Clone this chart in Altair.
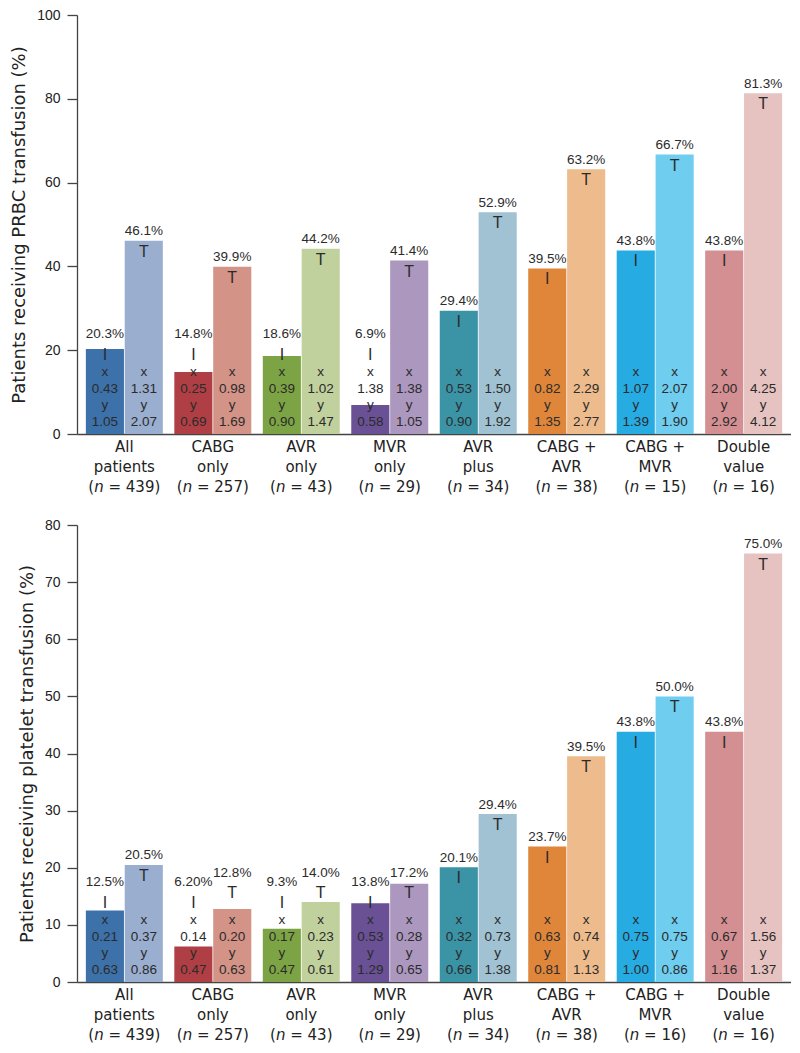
import altair as alt
import pandas as pd

# ---------------- data ----------------
line1 = ["All", "CABG", "AVR", "MVR", "AVR", "CABG +", "CABG +", "Double"]
line2 = ["patients", "only", "only", "only", "plus", "AVR", "MVR", "value"]

prbc_n = [439, 257, 43, 29, 34, 38, 15, 16]
plt_n = [439, 257, 43, 29, 34, 38, 16, 16]

dark_colors = ["#3d71a9", "#b03f45", "#7da444", "#6a5094", "#3b93a6", "#df863b", "#27abe3", "#d38f92"]
light_colors = ["#9aaecf", "#d39387", "#c1d19d", "#ac97bf", "#a0c2d2", "#eebb8d", "#6fcdef", "#e6c3c1"]

# PRBC panel (percent of patients) and the x / y values printed in the bars
prbc_dark = ["20.3", "14.8", "18.6", "6.9", "29.4", "39.5", "43.8", "43.8"]
prbc_light = ["46.1", "39.9", "44.2", "41.4", "52.9", "63.2", "66.7", "81.3"]
prbc_dark_x = ["0.43", "0.25", "0.39", "1.38", "0.53", "0.82", "1.07", "2.00"]
prbc_dark_y = ["1.05", "0.69", "0.90", "0.58", "0.90", "1.35", "1.39", "2.92"]
prbc_light_x = ["1.31", "0.98", "1.02", "1.38", "1.50", "2.29", "2.07", "4.25"]
prbc_light_y = ["2.07", "1.69", "1.47", "1.05", "1.92", "2.77", "1.90", "4.12"]

# Platelet panel
plt_dark = ["12.5", "6.20", "9.3", "13.8", "20.1", "23.7", "43.8", "43.8"]
plt_light = ["20.5", "12.8", "14.0", "17.2", "29.4", "39.5", "50.0", "75.0"]
plt_dark_x = ["0.21", "0.14", "0.17", "0.53", "0.32", "0.63", "0.75", "0.67"]
plt_dark_y = ["0.63", "0.47", "0.47", "1.29", "0.66", "0.81", "1.00", "1.16"]
plt_light_x = ["0.37", "0.20", "0.23", "0.28", "0.73", "0.74", "0.75", "1.56"]
plt_light_y = ["0.86", "0.63", "0.61", "0.65", "1.38", "1.13", "0.86", "1.37"]

prbc_ticks = [0, 20, 40, 60, 80, 100]
plt_ticks = [0, 10, 20, 30, 40, 50, 60, 70, 80]

# ---------------- styling ----------------
REG = "Liberation Sans"
WIDE = "DejaVu Sans"
TXT = "#2b2b2b"
AX = "#444444"
SMALL = 13.5
CAT = 15  # category label font size


def build_df(n_list, dv, lv, dx, dy, lx, ly):
    rows = []
    for i in range(len(line1)):
        g = f"{line1[i]}|{line2[i]}|(n = {n_list[i]})"
        nd = len(str(n_list[i]))
        rows.append(dict(group=g, series="a", value=float(dv[i]), label=dv[i] + "%",
                         xv=dx[i], yv=dy[i], glyph="I", color=dark_colors[i], zero=0,
                         nd=nd, nrest=f"= {n_list[i]})"))
        rows.append(dict(group=g, series="b", value=float(lv[i]), label=lv[i] + "%",
                         xv=lx[i], yv=ly[i], glyph="T", color=light_colors[i], zero=0,
                         nd=nd, nrest=f"= {n_list[i]})"))
    return pd.DataFrame(rows)


def panel(df, n_list, ymax, ticks, title, height, thr_dark, thr_light):
    order = [f"{line1[i]}|{line2[i]}|(n = {n_list[i]})" for i in range(len(line1))]
    yscale = alt.Scale(domain=[0, ymax], nice=False, zero=True)
    yaxis = alt.Axis(values=ticks, title=title, grid=False,
                     titleFont=WIDE, titleFontSize=18, titleFontWeight="normal",
                     titleColor="#222222", titlePadding=8,
                     labelFont=REG, labelFontSize=14, labelColor="#222222",
                     labelPadding=7, tickSize=10, tickColor=AX, tickWidth=1.3,
                     domainColor=AX, domainWidth=1.3)
    xenc = alt.X("group:N", sort=order,
                 scale=alt.Scale(paddingInner=0.13, paddingOuter=0.1),
                 axis=alt.Axis(title=None, labelAngle=0, ticks=False,
                               labelExpr="slice(split(datum.label, '|'), 0, 2)",
                               labelFont=WIDE, labelFontSize=CAT, labelLineHeight=20,
                               labelColor="#222222", labelPadding=5,
                               domainColor=AX, domainWidth=1.6))
    src = alt.Chart(df).transform_calculate(
        anchor=f"datum.series == 'a' ? max(datum.value, {thr_dark}) : max(datum.value, {thr_light})"
    )
    base = src.encode(x=xenc, xOffset=alt.XOffset("series:N", scale=alt.Scale(paddingInner=0.02)))
    bars = base.mark_bar().encode(
        y=alt.Y("value:Q", scale=yscale, axis=yaxis),
        color=alt.Color("color:N", scale=None),
    )
    layers = [bars]
    for field, off in [("xv", -45), ("yv", -12)]:
        layers.append(base.mark_text(dy=off, font=REG, fontSize=SMALL, color=TXT).encode(
            y=alt.Y("zero:Q", scale=yscale, axis=yaxis), text=f"{field}:N"))
    for letter, off in [("x", -62), ("y", -29)]:
        layers.append(base.mark_text(dy=off, font=REG, fontSize=SMALL, color=TXT).encode(
            y=alt.Y("zero:Q", scale=yscale, axis=yaxis), text=alt.value(letter)))
    layers.append(base.mark_text(dy=11, font=REG, fontSize=16, color=TXT).encode(
        y=alt.Y("anchor:Q", scale=yscale, axis=yaxis), text="glyph:N"))
    layers.append(base.mark_text(dy=-9.5, font=REG, fontSize=SMALL, color=TXT).encode(
        y=alt.Y("anchor:Q", scale=yscale, axis=yaxis), text="label:N"))

    # third label line "(n = ...)" with italic n, placed under each group
    em = CAT
    for nd in (2, 3):
        total = (0.390 + 0.634 + 1.474 + 0.636 * nd + 0.390) * em
        left = -total / 2
        pieces = [("(", left, "normal", alt.value("(")),
                  ("n", left + 0.390 * em, "italic", alt.value("n")),
                  ("rest", left + (0.390 + 0.634 + 0.318) * em, "normal", alt.Text("nrest:N"))]
        for _, dxv, style, txt in pieces:
            layers.append(
                src.transform_filter(f"datum.series == 'a' && datum.nd == {nd}")
                .mark_text(align="left", baseline="middle", dx=dxv, dy=52.5, font=WIDE,
                           fontSize=CAT, fontStyle=style, color="#222222")
                .encode(x=xenc, y=alt.Y("zero:Q", scale=yscale, axis=yaxis), text=txt)
            )
    return alt.layer(*layers).properties(width=714, height=height)


top_df = build_df(prbc_n, prbc_dark, prbc_light, prbc_dark_x, prbc_dark_y, prbc_light_x, prbc_light_y)
bot_df = build_df(plt_n, plt_dark, plt_light, plt_dark_x, plt_dark_y, plt_light_x, plt_light_y)

top = panel(top_df, prbc_n, 100, prbc_ticks, "Patients receiving PRBC transfusion (%)", 419, 21.5, 23.9)
bottom = panel(bot_df, plt_n, 80, plt_ticks, "Patients receiving platelet transfusion (%)", 457, 15.8, 17.5)

chart = alt.vconcat(top, bottom, spacing=23).properties(
    padding={"left": 2, "top": 0, "right": 0, "bottom": 0}
).configure_view(stroke=None)

chart.save("out.html", embed_options={"renderer": "svg", "actions": False})
